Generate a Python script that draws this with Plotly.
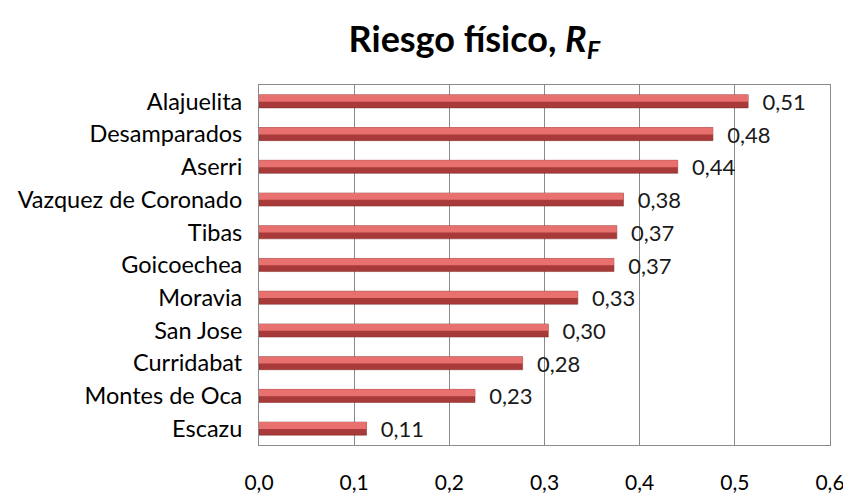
import plotly.graph_objects as go

# Riesgo fisico por canton
cantones = ["Alajuelita", "Desamparados", "Aserri", "Vazquez de Coronado", "Tibas",
            "Goicoechea", "Moravia", "San Jose", "Curridabat", "Montes de Oca", "Escazu"]
riesgo = [0.514, 0.477, 0.44, 0.383, 0.376, 0.373, 0.335, 0.304, 0.277, 0.227, 0.113]
etiquetas = ["0,51", "0,48", "0,44", "0,38", "0,37", "0,37", "0,33", "0,30", "0,28", "0,23", "0,11"]
x_ticks = [0, 0.1, 0.2, 0.3, 0.4, 0.5, 0.6]
x_ticktext = ["0,0", "0,1", "0,2", "0,3", "0,4", "0,5", "0,6"]

FONT = "Lato, 'Open Sans', sans-serif"

fig = go.Figure()

# dark base of the bar (gives the shaded bottom)
fig.add_trace(go.Bar(
    y=cantones, x=riesgo, orientation="h",
    marker=dict(color="#A83A39", line=dict(color="#7E2A29", width=0.5)),
    width=0.4,
    text=etiquetas, texttemplate="  %{text}", textposition="outside",
    constraintext="none",
    textfont=dict(size=22, color="#1a1a1a", family=FONT),
    cliponaxis=False, hoverinfo="skip",
))
# lighter top highlight
fig.add_trace(go.Bar(
    y=cantones, x=riesgo, orientation="h",
    marker=dict(color="#E8706E", line=dict(width=0)),
    width=0.21, offset=-0.2,
    hoverinfo="skip",
))

# the page body adds an 8px offset, margins below account for it
fig.update_layout(
    barmode="overlay",
    width=851, height=497,
    paper_bgcolor="white", plot_bgcolor="white",
    showlegend=False,
    margin=dict(l=251, r=29, t=77, b=60),
    title=dict(
        text="<b>Riesgo físico, <i>R<sub>F</sub></i></b>",
        x=0.548, xanchor="center", y=0.937, yanchor="middle",
        font=dict(size=36, color="black", family=FONT),
    ),
    font=dict(family=FONT, color="black"),
)

fig.update_xaxes(
    range=[0, 0.6], tickvals=x_ticks, ticktext=x_ticktext,
    showgrid=True, gridcolor="#8a8a8a", gridwidth=1,
    showline=True, linecolor="#8a8a8a", linewidth=1, mirror=True,
    ticks="", tickfont=dict(size=21, family=FONT),
    ticklabelstandoff=19, zeroline=False, automargin=False,
)
fig.update_yaxes(
    categoryorder="array", categoryarray=cantones, autorange="reversed",
    showline=True, linecolor="#8a8a8a", linewidth=1, mirror=True,
    ticks="", tickfont=dict(size=23.5, family=FONT), ticklabelstandoff=11,
    automargin=False,
)

fig.write_html("out.html")
